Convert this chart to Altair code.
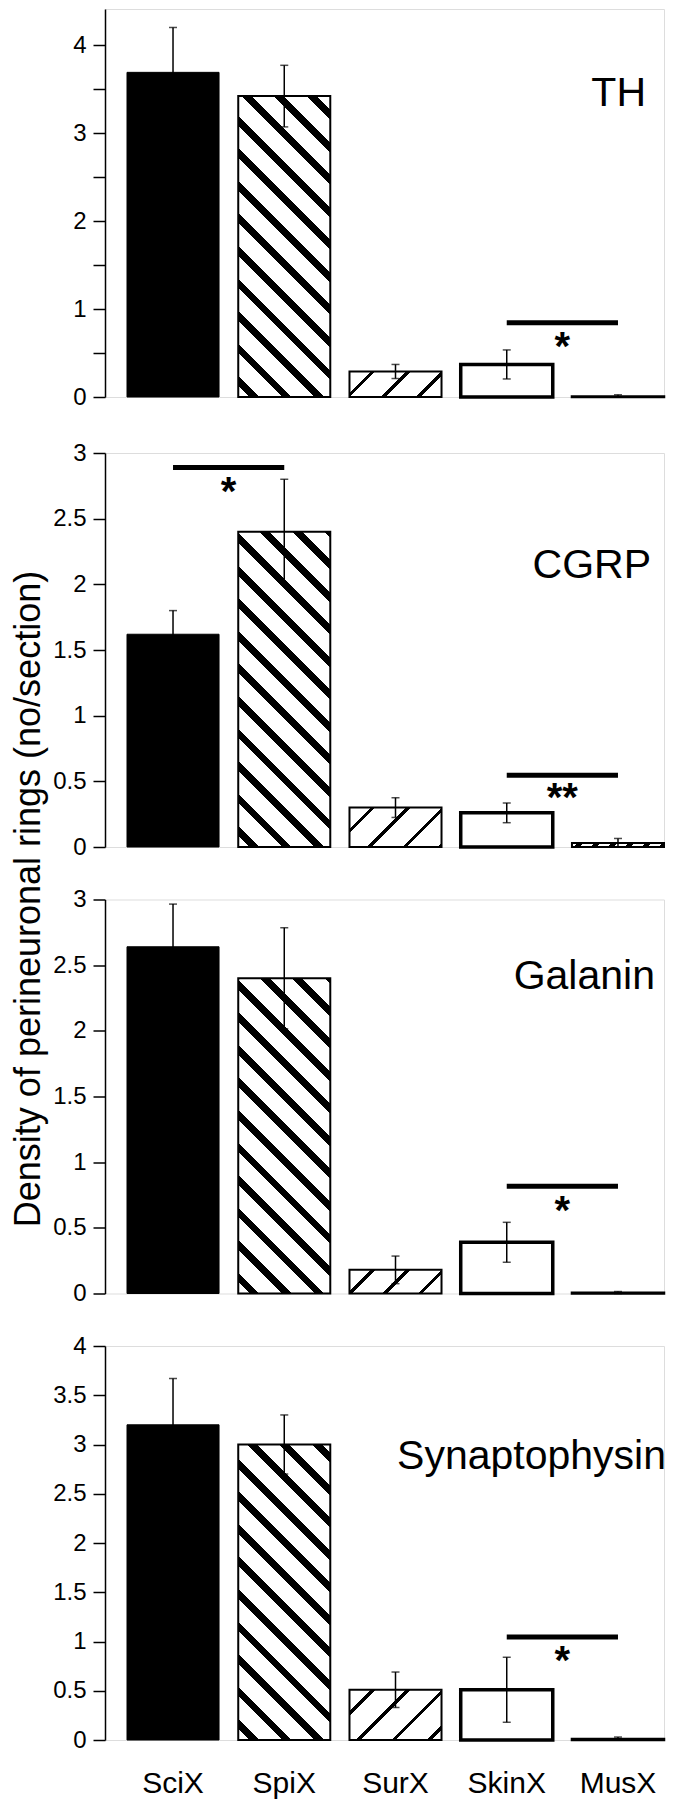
import math
import altair as alt
import pandas as pd

# ---------------- data ----------------
categories = ["SciX", "SpiX", "SurX", "SkinX", "MusX"]

th_mean = [3.69, 3.42, 0.29, 0.37, 0.005]
th_sem = [0.51, 0.35, 0.08, 0.165, 0.02]

cgrp_mean = [1.62, 2.40, 0.30, 0.26, 0.03]
cgrp_sem = [0.18, 0.40, 0.075, 0.075, 0.035]

gal_mean = [2.64, 2.40, 0.18, 0.39, 0.005]
gal_sem = [0.325, 0.385, 0.105, 0.152, 0.01]

syn_mean = [3.20, 3.00, 0.51, 0.51, 0.01]
syn_sem = [0.47, 0.30, 0.18, 0.33, 0.02]

panel_names = ["TH", "CGRP", "Galanin", "Synaptophysin"]

# significance brackets
sig_panel = ["TH", "CGRP", "CGRP", "Galanin", "Synaptophysin"]
sig_from = ["SkinX", "SciX", "SkinX", "SkinX", "SkinX"]
sig_to = ["MusX", "SpiX", "MusX", "MusX", "MusX"]
sig_level = [0.845, 2.89, 0.546, 0.817, 1.046]
star_level = [0.65, 2.76, 0.43, 0.685, 0.87]
star_text = ["*", "*", "**", "*", "*"]

y_title = "Density of perineuronal rings (no/section)"

# ---------------- layout / style ----------------
FONT = "Liberation Sans, Arial, Helvetica, sans-serif"
PLOT_W = 559
P_INNER, P_OUTER, ALIGN = 0.1727, 0.0989, 1.0
STEP = PLOT_W / (len(categories) - P_INNER + 2 * P_OUTER)
BW = STEP * (1 - P_INNER)

xscale = alt.Scale(domain=categories, paddingInner=P_INNER,
                   paddingOuter=P_OUTER, align=ALIGN, round=False)


def stripe_gradient(W, H, period, frac, direction, phase=0.35):
    H = max(H, 1.0)
    k = (W + H) / (W * W + H * H)
    if direction == "back":
        x1, y1, x2, y2 = 0, 1, k * W, 1 - k * H
    else:
        x1, y1, x2, y2 = 0, 0, k * W, k * H
    n = (W + H) / (math.sqrt(2) * period)
    stops = [{"offset": 0, "color": "white"}]
    i = 0
    while True:
        a = (i + phase) / n
        if a >= 1:
            break
        b = min((i + phase + frac) / n, 1)
        stops += [{"offset": a, "color": "white"}, {"offset": a, "color": "black"},
                  {"offset": b, "color": "black"}, {"offset": b, "color": "white"}]
        i += 1
    stops.append({"offset": 1, "color": "white"})
    return {"gradient": "linear", "x1": x1, "y1": y1, "x2": x2, "y2": y2,
            "stops": stops}


def panel(name, means, sems, ymax, height, label_expr, show_x, name_x, name_y,
          title=False):
    df = pd.DataFrame({"cat": categories, "mean": means, "sem": sems})
    df["lo"] = (df["mean"] - df["sem"]).clip(lower=0)
    df["hi"] = df["mean"] + df["sem"]
    unit = height / ymax

    yaxis_kw = dict(values=[v * 0.5 for v in range(int(ymax * 2) + 1)],
                    format="~g", grid=False, domainColor="black", domainWidth=1.5,
                    tickColor="black", tickWidth=1.5, tickSize=12,
                    labelFont=FONT, labelFontSize=24, labelColor="black",
                    labelPadding=7, labelExpr=label_expr, title=None)
    if title:
        yaxis_kw.update(title=y_title, titleFont=FONT, titleFontSize=36,
                        titleFontWeight="normal", titleColor="black",
                        titleAngle=270, titleX=-66, titleY=-1,
                        titleAlign="center", titleBaseline="alphabetic")
    yscale = alt.Scale(domain=[0, ymax], nice=False, zero=True)

    if show_x:
        xaxis = alt.Axis(title=None, ticks=False, domain=False, labelAngle=0,
                         labelFont=FONT, labelFontSize=30, labelColor="black",
                         labelPadding=52, labelBaseline="alphabetic")
    else:
        xaxis = None

    base = alt.Chart(df).encode(
        x=alt.X("cat:N", sort=categories, scale=xscale, axis=xaxis)
    )

    layers = []
    for i, c in enumerate(categories):
        H = means[i] * unit
        sub = base.transform_filter(alt.datum.cat == c)
        if c == "SciX":
            mk = sub.mark_bar(fill="black", stroke="black", strokeWidth=1,
                              width=BW)
        elif c == "SpiX":
            mk = sub.mark_bar(fill=stripe_gradient(BW, H, 23, 0.3, "back"),
                              stroke="black", strokeWidth=2, width=BW)
        elif c == "SurX":
            mk = sub.mark_bar(fill=stripe_gradient(BW, H, 25, 0.13, "fwd", 0.6),
                              stroke="black", strokeWidth=2, width=BW)
        elif c == "SkinX":
            mk = sub.mark_bar(fill="white", stroke="black", strokeWidth=3.5,
                              width=BW)
        else:
            if name == "CGRP":
                mk = sub.mark_bar(fill=stripe_gradient(BW, H, 12, 0.35, "fwd"),
                                  stroke="black", strokeWidth=2, width=BW)
            else:
                mk = sub.mark_bar(fill="white", stroke="black", strokeWidth=2.5,
                                  width=BW)
        layers.append(mk.encode(
            y=alt.Y("mean:Q", scale=yscale, axis=alt.Axis(**yaxis_kw))))

    err = base.mark_rule(color="black", strokeWidth=1.5).encode(
        y="lo:Q", y2="hi:Q")
    cap_hi = base.mark_tick(color="black", thickness=1.5, size=8).encode(y="hi:Q")
    cap_lo = base.mark_tick(color="black", thickness=1.5, size=8).encode(y="lo:Q")
    layers += [err, cap_hi, cap_lo]

    sdf = pd.DataFrame({"panel": sig_panel, "a": sig_from, "b": sig_to,
                        "lvl": sig_level, "star": star_level, "txt": star_text})
    sdf = sdf[sdf["panel"] == name]
    sbase = alt.Chart(sdf)
    lines = sbase.mark_rule(color="black", strokeWidth=5).encode(
        x=alt.X("a:N", sort=categories, scale=xscale, axis=xaxis),
        x2="b:N", y="lvl:Q")
    stars = sbase.mark_text(font=FONT, fontSize=40, fontWeight="bold",
                            color="black", baseline="middle", dx=STEP / 2,
                            dy=8).encode(
        x=alt.X("a:N", sort=categories, scale=xscale, axis=xaxis),
        y="star:Q", text="txt:N")
    layers += [lines, stars]

    ndf = pd.DataFrame({"name": [name], "lvl": [name_y]})
    lab = alt.Chart(ndf).mark_text(font=FONT, fontSize=41, color="black",
                                   align="right", baseline="alphabetic").encode(
        x=alt.value(name_x), y="lvl:Q", text="name:N")
    layers.append(lab)

    return alt.layer(*layers).properties(width=PLOT_W, height=height)


half_only_int = "datum.value % 1 == 0 ? datum.label : ''"
all_labels = "datum.label"

p1 = panel("TH", th_mean, th_sem, 4.41, 388, half_only_int, False, 541, 3.31)
p2 = panel("CGRP", cgrp_mean, cgrp_sem, 3.0, 394, all_labels, False, 546, 2.05)
p3 = panel("Galanin", gal_mean, gal_sem, 3.0, 394, all_labels, False, 550, 2.32,
           title=True)
p4 = panel("Synaptophysin", syn_mean, syn_sem, 4.0, 394, all_labels, True, 561,
           2.75)

inner = alt.vconcat(p2, p3, p4, spacing=52.5, bounds="flush")
chart = alt.vconcat(p1, inner, spacing=56, bounds="flush").properties(
    padding={"left": 1, "top": 0, "right": 0, "bottom": 0}
).configure_view(stroke=None).configure(background="white")

chart.save("out.html", embed_options={"renderer": "svg", "actions": False})
